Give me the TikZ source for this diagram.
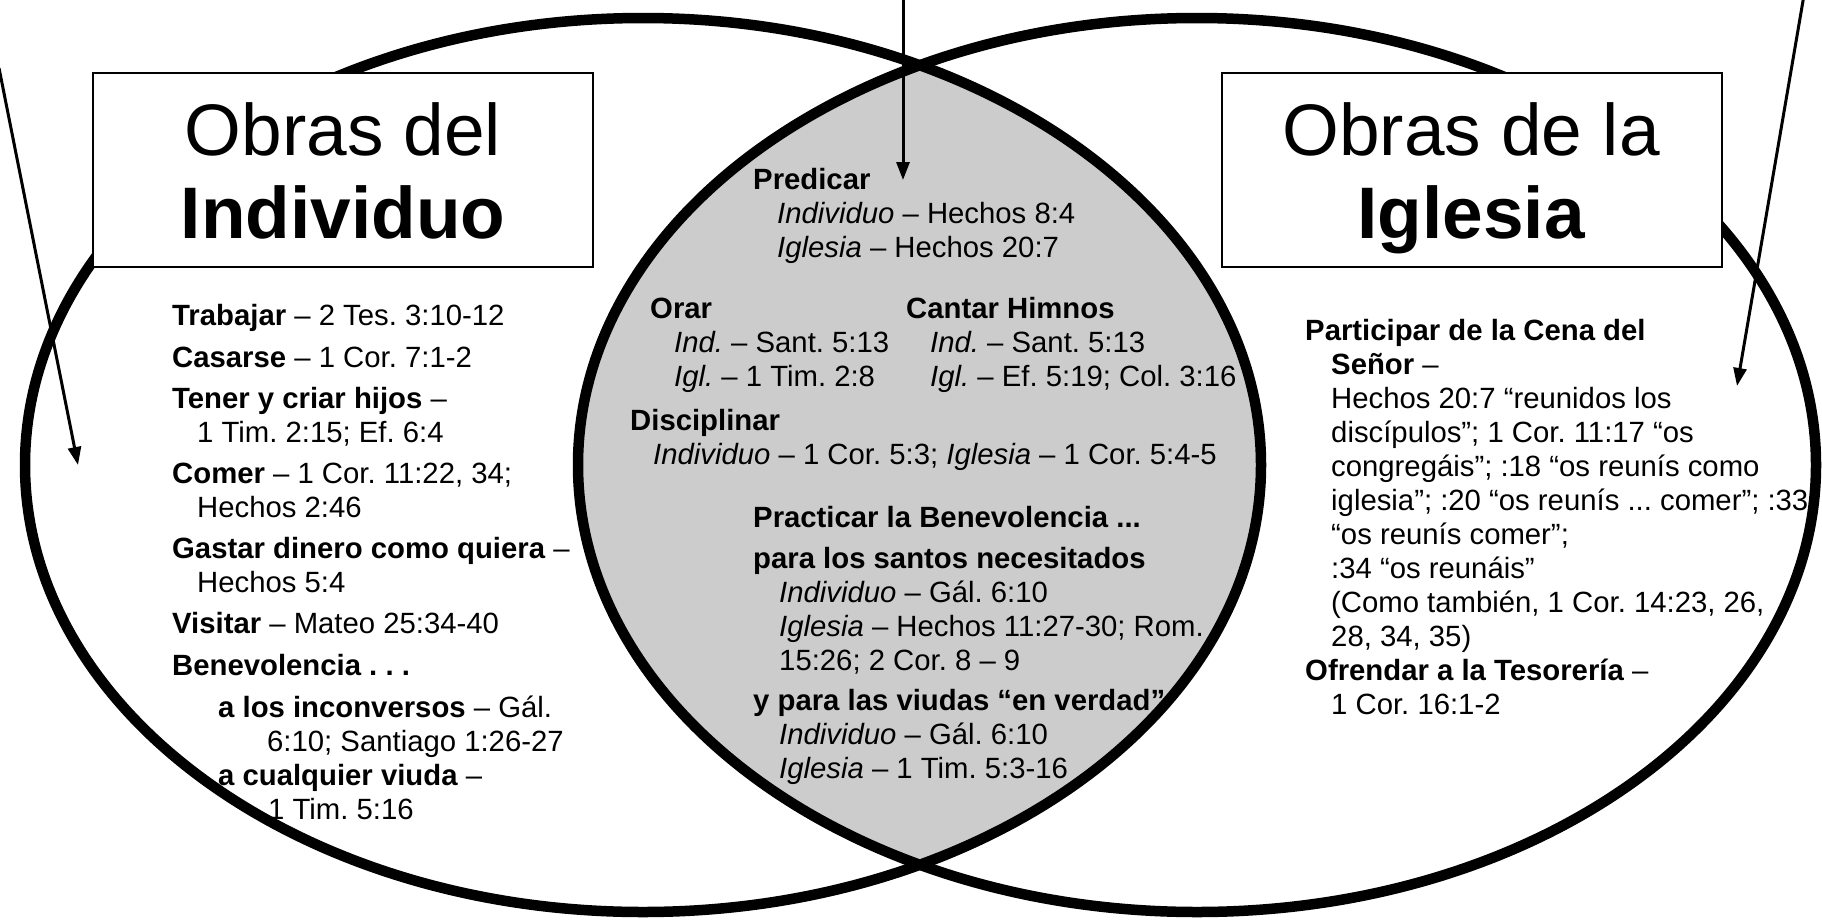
\documentclass[tikz,border=0pt]{standalone}
\usepackage{fontspec}
\setmainfont{Liberation Sans}
\usetikzlibrary{arrows.meta}
\definecolor{lensgray}{RGB}{204,204,204}
\newcommand\bodyfont{\fontsize{29.3pt}{34pt}\selectfont}
\newcommand\titlefont{\fontsize{73pt}{83pt}\selectfont}
\newcommand\stk[1]{\vtop{\baselineskip=34pt\lineskiplimit=-100pt\lineskip=0pt\halign{##\hfil\cr#1\crcr}}}
\newcommand\ind[1]{\hspace*{#1pt}}
\frenchspacing
\begin{document}
\begin{tikzpicture}[x=1pt,y=-1pt,
  txt/.style={anchor=base west, inner sep=0pt, font=\bodyfont},
  titlebox/.style={draw, line width=2pt, fill=white, minimum width=500pt, minimum height=194pt, inner sep=0pt},
  ttl/.style={anchor=base, inner sep=0pt, font=\titlefont},
  venn/.style={line width=10.5pt},
  pointer/.style={line width=3pt, -{Triangle[length=18pt,width=13pt]}}]
\useasboundingbox (0,0) rectangle (1822,921);
\clip (0,0) rectangle (1822,921);
\fill[white] (0,0) rectangle (1822,921);

% lens
\begin{scope}
  \clip (643,465) ellipse [x radius=618pt, y radius=447pt];
  \fill[lensgray] (1197,465) ellipse [x radius=619pt, y radius=447pt];
\end{scope}
\draw[venn] (643,465) ellipse [x radius=618pt, y radius=447pt];
\draw[venn] (1197,465) ellipse [x radius=619pt, y radius=447pt];

% title boxes
\node[titlebox] (boxL) at (343,170) {};
\node[titlebox] (boxR) at (1472,170) {};
\node[ttl] (tL1) at (343,155) {Obras del};
\node[ttl] (tL2) at (343,238) {\bfseries Individuo};
\node[ttl] (tR1) at (1471,155) {Obras de la};
\node[ttl] (tR2) at (1471,238) {\bfseries Iglesia};

% left column
\node[txt] (l1) at (172,325) {\stk{\textbf{Trabajar} – 2 Tes. 3:10-12}};
\node[txt] (l2) at (172,367) {\stk{\textbf{Casarse} – 1 Cor. 7:1-2}};
\node[txt] (l3) at (172,408) {\stk{\textbf{Tener y criar hijos} –\cr\ind{25}1 Tim. 2:15; Ef. 6:4}};
\node[txt] (l4) at (172,483) {\stk{\textbf{Comer} – 1 Cor. 11:22, 34;\cr\ind{25}Hechos 2:46}};
\node[txt] (l5) at (172,558) {\stk{\textbf{Gastar dinero como quiera} –\cr\ind{25}Hechos 5:4}};
\node[txt] (l6) at (172,633) {\stk{\textbf{Visitar} – Mateo 25:34-40}};
\node[txt] (l7) at (172,675) {\stk{\textbf{Benevolencia . . .}}};
\node[txt] (l8) at (218,717) {\stk{\textbf{a los inconversos} – Gál.\cr\ind{49}6:10; Santiago 1:26-27}};
\node[txt] (l9) at (218,785) {\stk{\textbf{a cualquier viuda} –\cr\ind{50}1 Tim. 5:16}};

% center
\node[txt] (c1) at (753,189) {\stk{\textbf{Predicar}\cr\ind{24}\textit{Individuo} – Hechos 8:4\cr\ind{24}\textit{Iglesia} – Hechos 20:7}};
\node[txt] (c2) at (650,318) {\stk{\textbf{Orar}\cr\ind{24}\textit{Ind.} – Sant. 5:13\cr\ind{24}\textit{Igl.} – 1 Tim. 2:8}};
\node[txt] (c3) at (906,318) {\stk{\textbf{Cantar Himnos}\cr\ind{24}\textit{Ind.} – Sant. 5:13\cr\ind{24}\textit{Igl.} – Ef. 5:19; Col. 3:16}};
\node[txt] (c4) at (630,430) {\stk{\textbf{Disciplinar}\cr\ind{23}\textit{Individuo} – 1 Cor. 5:3; \textit{Iglesia} – 1 Cor. 5:4-5}};
\node[txt] (c5) at (753,527) {\stk{\textbf{Practicar la Benevolencia ...}}};
\node[txt] (c6) at (753,568) {\stk{\textbf{para los santos necesitados}\cr\ind{26}\textit{Individuo} – Gál. 6:10\cr\ind{26}\textit{Iglesia} – Hechos 11:27-30; Rom.\cr\ind{26}15:26; 2 Cor. 8 – 9}};
\node[txt] (c7) at (753,710) {\stk{\textbf{y para las viudas “en verdad”}\cr\ind{26}\textit{Individuo} – Gál. 6:10\cr\ind{26}\textit{Iglesia} – 1 Tim. 5:3-16}};

% right column
\node[txt] (r1) at (1305,340) {\stk{\textbf{Participar de la Cena del}\cr
 \ind{26}\textbf{Señor} –\cr
 \ind{26}Hechos 20:7 “reunidos los\cr
 \ind{26}discípulos”; 1 Cor. 11:17 “os\cr
 \ind{26}congregáis”; :18 “os reunís como\cr
 \ind{26}iglesia”; :20 “os reunís ... comer”; :33\cr
 \ind{26}“os reunís comer”;\cr
 \ind{26}:34 “os reunáis”\cr
 \ind{26}(Como también, 1 Cor. 14:23, 26,\cr
 \ind{26}28, 34, 35)}};
\node[txt] (r2) at (1305,680) {\stk{\textbf{Ofrendar a la Tesorería} –\cr\ind{26}1 Cor. 16:1-2}};

% arrows
\coordinate (aL0) at (-1,68);
\coordinate (aL1) at (78,465);
\coordinate (aC0) at (903,-5);
\coordinate (aC1) at (903,180);
\coordinate (aR0) at (1804,-5);
\coordinate (aR1) at (1737,386);
\draw[pointer] (aL0) -- (aL1);
\draw[pointer] (aC0) -- (aC1);
\draw[pointer] (aR0) -- (aR1);
\end{tikzpicture}
\end{document}
